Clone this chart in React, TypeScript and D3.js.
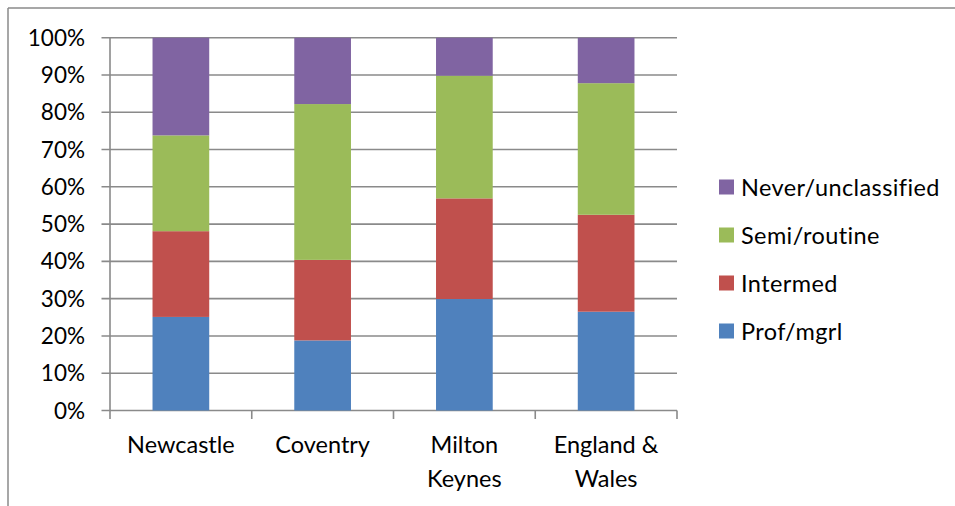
import React from "react";
import * as d3 from "d3";

const categories: string[][] = [["Newcastle"], ["Coventry"], ["Milton", "Keynes"], ["England &", "Wales"]];
const seriesNames = ["Prof/mgrl", "Intermed", "Semi/routine", "Never/unclassified"];
const colors = ["#4F81BD", "#C0504D", "#9BBB59", "#8064A2"];
const profMgrl = [25.1, 18.8, 29.9, 26.5];
const intermed = [23.0, 21.6, 27.0, 26.0];
const semiRoutine = [25.7, 41.8, 32.9, 35.3];
const never = [26.2, 17.8, 10.2, 12.2];
const yTicks = [0, 10, 20, 30, 40, 50, 60, 70, 80, 90, 100];

const W = 955;
const H = 506;
const FONT = "Lato, 'Open Sans', sans-serif";

export default function App() {
  const left = 110, right = 677, top = 37.7, bottom = 410.5;
  const keys = categories.map((c) => c.join(" "));
  const x = d3.scaleBand<string>().domain(keys).range([left, right]).paddingInner(0.6).paddingOuter(0.3);
  const xb = d3.scaleBand<string>().domain(keys).range([left, right]);
  const y = d3.scaleLinear().domain([0, 100]).range([bottom, top]);
  const rows = keys.map((k, i) => ({
    key: k,
    s0: profMgrl[i],
    s1: intermed[i],
    s2: semiRoutine[i],
    s3: never[i],
  }));
  const stack = d3.stack<any>().keys(["s0", "s1", "s2", "s3"]).offset(d3.stackOffsetExpand);
  const layers = stack(rows);
  const grid = "#8a8a8a";

  return (
    <svg width={W} height={H} style={{ position: "absolute", left: 0, top: 0 }}>
      <rect x={0} y={0} width={W} height={H} fill="#fff" />
      <line x1={8} y1={8} x2={W} y2={8} stroke="#8a8a8a" strokeWidth={1.5} />
      <line x1={8} y1={8} x2={8} y2={H} stroke="#8a8a8a" strokeWidth={1.5} />
      {yTicks.map((t) => (
        <g key={t}>
          <line x1={101.5} x2={right} y1={y(t)} y2={y(t)} stroke={grid} strokeWidth={1.6} />
          <text x={85} y={y(t)} dy="0.36em" textAnchor="end" fontFamily={FONT} fontSize={22.5} fill="#000">
            {t}%
          </text>
        </g>
      ))}
      <line x1={left} x2={left} y1={top} y2={bottom} stroke={grid} strokeWidth={1.6} />
      {keys.map((k) => (
        <line key={"t" + k} x1={xb(k)} x2={xb(k)} y1={bottom} y2={bottom + 8.5} stroke={grid} strokeWidth={1.6} />
      ))}
      <line x1={right} x2={right} y1={bottom} y2={bottom + 8.5} stroke={grid} strokeWidth={1.6} />
      {layers.map((layer, li) =>
        layer.map((d: any, i: number) => (
          <rect
            key={li + "-" + i}
            x={x(keys[i])}
            width={x.bandwidth()}
            y={y(d[1] * 100)}
            height={y(d[0] * 100) - y(d[1] * 100)}
            fill={colors[li]}
          />
        ))
      )}
      {categories.map((lines, i) => (
        <text key={"c" + i} textAnchor="middle" fontFamily={FONT} fontSize={23.5} fill="#000">
          {lines.map((ln, j) => (
            <tspan key={j} x={(xb(keys[i]) as number) + xb.bandwidth() / 2} y={453 + j * 34}>
              {ln}
            </tspan>
          ))}
        </text>
      ))}
      {seriesNames
        .map((n, i) => ({ n, i }))
        .reverse()
        .map(({ n, i }, j) => (
          <g key={n}>
            <rect x={719} y={179.5 + j * 48} width={15} height={15} fill={colors[i]} />
            <text x={741} y={187.3 + j * 48} dy="0.36em" fontFamily={FONT} fontSize={23.5} letterSpacing={0.4} fill="#000">
              {n}
            </text>
          </g>
        ))}
    </svg>
  );
}
